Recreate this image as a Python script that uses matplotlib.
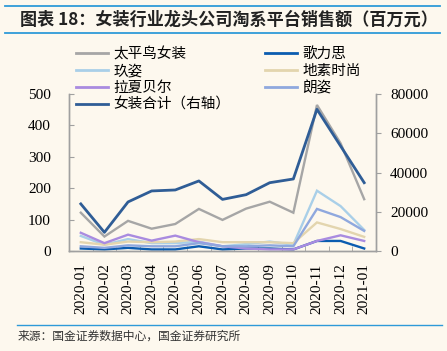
import matplotlib
matplotlib.use("Agg")
import matplotlib.pyplot as plt
import numpy as np
from matplotlib.lines import Line2D

months = ["2020-01", "2020-02", "2020-03", "2020-04", "2020-05", "2020-06", "2020-07",
          "2020-08", "2020-09", "2020-10", "2020-11", "2020-12", "2021-01"]

peacebird = [122, 46, 96, 71, 86, 134, 99, 135, 157, 122, 465, 343, 165]
ellassay = [8, 5, 10, 5, 5, 15, 5, 8, 8, 5, 32, 32, 8]
jiuzi = [48, 20, 38, 25, 25, 30, 15, 22, 30, 20, 192, 143, 67]
dazzle = [28, 20, 30, 28, 30, 38, 28, 28, 28, 25, 91, 70, 45]
lachapelle = [58, 25, 52, 33, 49, 28, 15, 8, 5, 5, 32, 50, 32]
langzi = [15, 10, 18, 15, 15, 25, 15, 15, 18, 15, 134, 108, 64]
total = [24000, 9500, 25000, 30600, 31100, 35700, 26300, 28700, 34800, 36700, 72200, 53500, 34800]

names = ["太平鸟女装", "歌力思", "玖姿", "地素时尚", "拉夏贝尔", "朗姿", "女装合计（右轴）"]
colors = ["#A6A6A6", "#0B5CB0", "#A9CFE8", "#E3D5AE", "#A98BE0", "#8FA8DE", "#2F5D96"]

BG = "#FDF8EE"
CJK = ["Noto Sans CJK SC", "DejaVu Sans"]
plt.rcParams["font.family"] = ["Liberation Serif", "DejaVu Serif"]

fig = plt.figure(figsize=(4.47, 3.51), dpi=100, facecolor=BG)
ax = fig.add_axes([69/447, 1-251/351, (376-69)/447, (251-94)/351])
ax.set_facecolor(BG)
ax2 = ax.twinx()

x = np.arange(len(months))
series = [peacebird, ellassay, jiuzi, dazzle, lachapelle, langzi]
handles = []
for s, c, n in zip(series, colors[:6], names[:6]):
    h, = ax.plot(x, s, color=c, lw=1.7, label=n, solid_joinstyle="miter")
    handles.append(h)
ht, = ax2.plot(x, total, color=colors[6], lw=2.0, label=names[6])
handles.append(ht)

ax.set_xlim(-0.5, len(months) - 0.5)
ax.set_ylim(0, 500)
ax.set_yticks([0, 100, 200, 300, 400, 500])
ax2.set_ylim(0, 80000)
ax2.set_yticks([0, 20000, 40000, 60000, 80000])

spine_c = "#A0A0A0"
for a in (ax, ax2):
    for sp in a.spines.values():
        sp.set_color(spine_c)
        sp.set_linewidth(1.0)
    a.spines["top"].set_visible(False)

ax.tick_params(axis="y", direction="in", length=3.5, color=spine_c, pad=13, labelsize=11)
ax2.tick_params(axis="y", direction="out", length=3.5, color=spine_c, pad=6.5, labelsize=11)
ax.set_xticks(x)
ax.set_xticklabels(months, rotation=90, fontsize=11)
ax.tick_params(axis="x", which="major", length=0, pad=9)
ax.set_xticks(np.arange(0.5, len(months) - 1, 1), minor=True)
ax.tick_params(axis="x", which="minor", direction="in", length=3.5, color=spine_c)

# legend: order for column-major fill
order = [0, 2, 4, 6, 1, 3, 5]
leg = fig.legend([handles[i] for i in order], [names[i] for i in order],
                 ncol=2, loc="upper left", bbox_to_anchor=(66/447, 1-37/351),
                 frameon=False, prop={"family": CJK, "size": 10.5},
                 handlelength=2.2, handletextpad=0.35, columnspacing=2.4,
                 labelspacing=0.2, borderpad=0.2)
for lh in leg.get_lines():
    lh.set_linewidth(2.0)

# title with rules
fig.add_artist(Line2D([5/447, 440/447], [1-6/351, 1-6/351], color="#2E9AD8", lw=1.3))
fig.add_artist(Line2D([5/447, 440/447], [1-33/351, 1-33/351], color="#2E9AD8", lw=1.3))
fig.text(20/447, 1-19.5/351, "图表 18：女装行业龙头公司淘系平台销售额（百万元）",
         family=CJK, fontsize=12.3, fontweight="bold", va="center", ha="left", color="#222222")

# source
fig.add_artist(Line2D([17/447, 442/447], [1-325/351, 1-325/351], color="#2E9AD8", lw=1.0))
fig.text(18/447, 1-336/351, "来源：国金证券数据中心，国金证券研究所",
         family=CJK, fontsize=8.5, va="center", ha="left", color="#333333")

fig.savefig("out.png", dpi=100, facecolor=BG)
